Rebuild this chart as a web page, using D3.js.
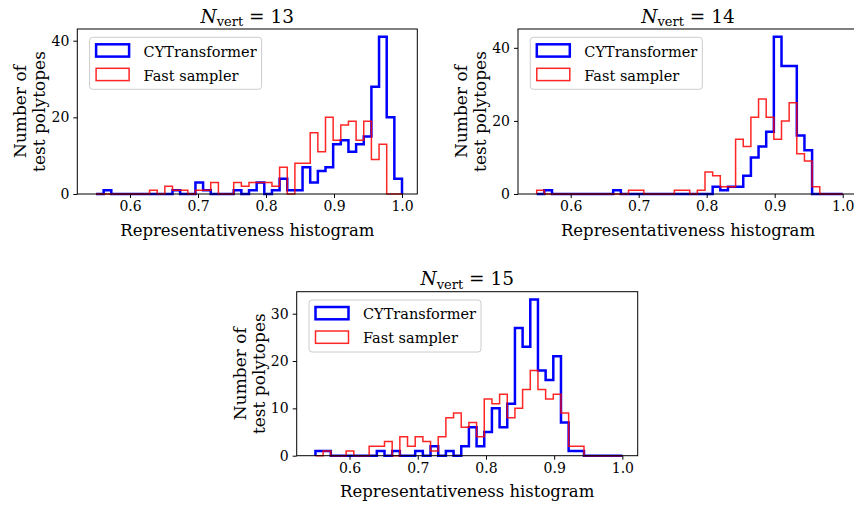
<!DOCTYPE html>
<html>
<head>
<meta charset="utf-8">
<script src="https://cdn.jsdelivr.net/npm/d3@7"></script>
<style>
  body { margin: 0; background: #fff; }
  svg text { font-family: "DejaVu Serif", serif; fill: #000; }
</style>
</head>
<body>
<svg id="chart"></svg>
<script>
// ====== dimensions ====== //
const width = 854;
const height = 511;

const svg = d3.select("#chart")
    .attr("width", width)
    .attr("height", height);

// ====== data : counts per bin (40 bins, 0.55 -> 1.0) ====== //
const binStart = 0.55;
const binWidth = 0.01125;
const nBins = 40;

const xTicks = [0.6, 0.7, 0.8, 0.9, 1.0];
const seriesNames = ["CYTransformer", "Fast sampler"];

const cy13   = [0,1,0,0,0,0,0,0,0,0, 1,0,0,3,1,0,0,0,1,0, 1,3,0,1,4,1,1,7,3,6, 7,13,14,11,13,15,28,41,20,4];
const fast13 = [0,0,0,0,0,0,0,1,0,2, 1,1,0,1,1,3,0,0,3,2, 3,3,3,2,7,0,8,8,16,11, 20,14,18,19,14,19,9,13,0,0];

const cy14   = [0,1,0,0,0,0,0,0,0,0, 1,0,0,0,0,0,0,0,0,0, 0,0,0,2,1,2,2,5,10,13, 17,43,35,35,16,12,0,0,0,0];
const fast14 = [1,0,0,0,0,0,0,0,0,0, 0,0,1,1,0,0,0,0,1,1, 0,1,6,5,2,2,15,13,21,26, 21,15,20,25,11,9,2,0,0,0];

const cy15   = [1,1,0,0,0,0,0,0,1,0, 1,0,0,1,0,2,0,1,0,2, 6,2,5,10,6,11,27,23,33,18, 16,21,7,1,1,0,0,0,0,0];
const fast15 = [0,1,0,0,1,0,0,2,2,3, 0,4,2,4,3,1,4,8,9,6, 7,4,12,11,13,8,10,14,18,14, 12,13,9,2,2,0,0,0,0,0];

const yTicks13 = [0, 20, 40];
const yTicks14 = [0, 20, 40];
const yTicks15 = [0, 10, 20, 30];

// bin edges
const edges = d3.range(nBins + 1).map(i => binStart + i * binWidth);

// layout of the three panels (pixels)
const panels = [
    { nvert: 13, cy: cy13, fast: fast13, yTicks: yTicks13, left: 77.3, right: 417.3, top: 29, bottom: 194 },
    { nvert: 14, cy: cy14, fast: fast14, yTicks: yTicks14, left: 518, right: 858, top: 29, bottom: 194 },
    { nvert: 15, cy: cy15, fast: fast15, yTicks: yTicks15, left: 296.7, right: 637.7, top: 291.7, bottom: 455.7 }
];

const colors = { cy: "#0000ff", fast: "#ff0000" };
const strokeW = { cy: 2.5, fast: 1.5 };

// step outline like matplotlib histtype='step'
function stepPoints(counts) {
    const pts = [[edges[0], 0]];
    counts.forEach((c, i) => {
        pts.push([edges[i], c]);
        pts.push([edges[i + 1], c]);
    });
    pts.push([edges[nBins], 0]);
    return pts;
}

function drawPanel(p) {
    const g = svg.append("g");

    const x = d3.scaleLinear()
        .domain([0.5225, 1.0225])
        .range([p.left, p.right]);

    const yMax = d3.max(p.cy.concat(p.fast)) * 1.05;
    const y = d3.scaleLinear()
        .domain([0, yMax])
        .range([p.bottom, p.top]);

    const line = d3.line()
        .x(d => x(d[0]))
        .y(d => y(d[1]));

    // histos : blue first, red on top
    g.append("path")
        .attr("d", line(stepPoints(p.cy)))
        .attr("fill", "none")
        .attr("stroke", colors.cy)
        .attr("stroke-width", strokeW.cy)
        .attr("stroke-linejoin", "miter");

    g.append("path")
        .attr("d", line(stepPoints(p.fast)))
        .attr("fill", "none")
        .attr("stroke", colors.fast)
        .attr("stroke-opacity", 0.85)
        .attr("stroke-width", strokeW.fast)
        .attr("stroke-linejoin", "miter");

    // axes
    const xAxis = g.append("g")
        .attr("transform", `translate(0,${p.bottom})`)
        .call(d3.axisBottom(x)
            .tickValues(xTicks)
            .tickSize(4)
            .tickPadding(3)
            .tickFormat(d3.format(".1f")));

    const yAxis = g.append("g")
        .attr("transform", `translate(${p.left},0)`)
        .call(d3.axisLeft(y)
            .tickValues(p.yTicks)
            .tickSize(4)
            .tickPadding(4)
            .tickFormat(d3.format("d")));

    [xAxis, yAxis].forEach(a => {
        a.select(".domain").remove();
        a.attr("font-family", null).attr("font-size", null);
        a.selectAll("line").attr("stroke", "#000").attr("stroke-width", 1);
        a.selectAll("text").style("font-size", "14px");
    });

    // spines
    g.append("rect")
        .attr("x", p.left)
        .attr("y", p.top)
        .attr("width", p.right - p.left)
        .attr("height", p.bottom - p.top)
        .attr("fill", "none")
        .attr("stroke", "#000")
        .attr("stroke-width", 1);

    const cx = (p.left + p.right) / 2;

    // title N_vert = ..
    const title = g.append("text")
        .attr("x", cx)
        .attr("y", p.top - 6.5)
        .attr("text-anchor", "middle")
        .style("font-size", "18.5px");
    title.append("tspan").attr("font-style", "italic").text("N");
    title.append("tspan").attr("dy", 3.5).style("font-size", "13px").text("vert");
    title.append("tspan").attr("dy", -3.5).text(" = " + p.nvert);

    // x label
    g.append("text")
        .attr("x", cx)
        .attr("y", p.bottom + 41.5)
        .attr("text-anchor", "middle")
        .style("font-size", "16.5px")
        .text("Representativeness histogram");

    // y label, two lines
    const cyMid = (p.top + p.bottom) / 2;
    [["Number of", p.left - 51], ["test polytopes", p.left - 32]].forEach(([t, bx]) => {
        g.append("text")
            .attr("transform", `translate(${bx},${cyMid}) rotate(-90)`)
            .attr("text-anchor", "middle")
            .style("font-size", "17px")
            .text(t);
    });

    // legend
    const lx = p.left + 12.3;
    const ly = p.top + 8.3;
    const leg = g.append("g");
    leg.append("rect")
        .attr("x", lx)
        .attr("y", ly)
        .attr("width", 172)
        .attr("height", 52)
        .attr("rx", 3)
        .attr("fill", "#fff")
        .attr("fill-opacity", 0.8)
        .attr("stroke", "#cccccc")
        .attr("stroke-width", 1);

    const keys = ["cy", "fast"];
    keys.forEach((k, i) => {
        const ey = ly + 7 + i * 24;
        leg.append("rect")
            .attr("x", lx + 6.5)
            .attr("y", ey)
            .attr("width", 33)
            .attr("height", 12.3)
            .attr("fill", "none")
            .attr("stroke", colors[k])
            .attr("stroke-opacity", k === "fast" ? 0.85 : 1)
            .attr("stroke-width", strokeW[k]);
        leg.append("text")
            .attr("x", lx + 54)
            .attr("y", ey + 12.3)
            .style("font-size", "14.5px")
            .text(seriesNames[i]);
    });
}

panels.forEach(drawPanel);
</script>
</body>
</html>
